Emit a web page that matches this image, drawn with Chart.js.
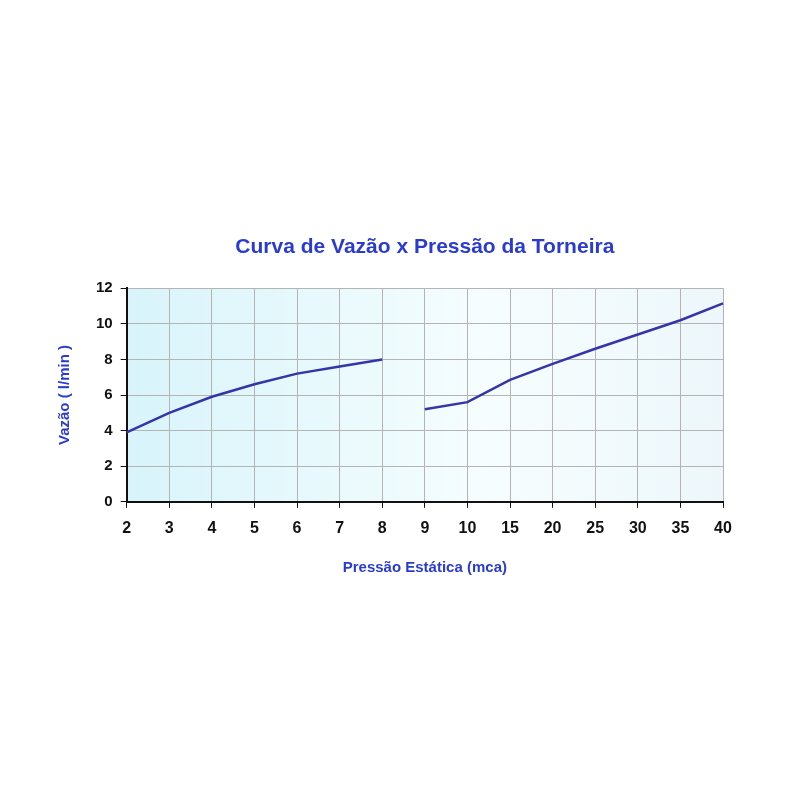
<!DOCTYPE html>
<html>
<head>
<meta charset="utf-8">
<script src="https://cdn.jsdelivr.net/npm/chart.js@4"></script>
<style>
  body { margin: 0; background: #fff; }
</style>
</head>
<body>
<canvas id="vazao" width="800" height="800"></canvas>
<script>
// pressao estatica (mca) - eixo x
var pressoes = ['2', '3', '4', '5', '6', '7', '8', '9', '10', '15', '20', '25', '30', '35', '40']
// vazao em l/min, trecho 2 a 8 mca
var vazaoTrecho1 = [3.9, 5.0, 5.9, 6.6, 7.2, 7.6, 8.0]
// vazao em l/min, trecho 9 a 40 mca
var vazaoTrecho2 = [5.2, 5.6, 6.85, 7.75, 8.6, 9.4, 10.2, 11.15]
var yTicks = [0, 2, 4, 6, 8, 10, 12]

var fonte = 'Liberation Sans, Arial, sans-serif'
var azul = '#2a3bd0'

// completa com null para os dois trechos ficarem separados
function trecho1(){
    var out = vazaoTrecho1.slice()
    while (out.length < pressoes.length) out.push(null)
    return out
}
function trecho2(){
    var out = []
    for (i=0;i<pressoes.length - vazaoTrecho2.length;i++) out.push(null)
    return out.concat(vazaoTrecho2)
}

// fundo em degrade dentro da area do grafico
const fundo = {
    id: 'fundo',
    beforeDraw(chart){
        const a = chart.chartArea
        const c = chart.ctx
        const g = c.createLinearGradient(a.left, 0, a.right, 0)
        g.addColorStop(0, '#d8f4fa')
        g.addColorStop(0.25, '#e4f8fc')
        g.addColorStop(0.6, '#f6fdfe')
        g.addColorStop(1, '#edf7fb')
        c.save()
        c.fillStyle = g
        c.fillRect(a.left, a.top, a.right - a.left, a.bottom - a.top)
        c.restore()
    }
}

const ctx = document.getElementById('vazao').getContext('2d');
const myChart = new Chart(ctx, {
    type: 'line',
    data: {
        labels: pressoes,
        datasets: [{
            data: trecho1(),
            borderColor: '#3535a8',
            borderWidth: 2.5,
            pointRadius: 0,
            tension: 0,
            spanGaps: false
        }, {
            data: trecho2(),
            borderColor: '#3535a8',
            borderWidth: 2.5,
            pointRadius: 0,
            tension: 0,
            spanGaps: false
        }]
    },
    options: {
        responsive: false,
        animation: false,
        layout: {
            padding: { top: 235, bottom: 219, left: 52, right: 77 }
        },
        plugins: {
            legend: { display: false },
            tooltip: { enabled: false },
            title: {
                display: true,
                fullSize: false,
                text: 'Curva de Vazão x Pressão da Torneira',
                color: azul,
                font: { family: fonte, size: 21, weight: 'bold' },
                padding: { top: 0, bottom: 28 }
            }
        },
        scales: {
            x: {
                offset: false,
                grid: { color: '#b4b4b4', lineWidth: 1, tickLength: 6, tickColor: '#111' },
                border: { color: '#111', width: 2 },
                ticks: {
                    color: '#111',
                    padding: 11,
                    maxRotation: 0,
                    font: { family: fonte, size: 16, weight: 'bold' }
                },
                title: {
                    display: true,
                    text: 'Pressão Estática (mca)',
                    color: azul,
                    font: { family: fonte, size: 15, weight: 'bold' },
                    padding: { top: 10 }
                }
            },
            y: {
                min: 0,
                max: 12,
                afterBuildTicks: function(axis){
                    axis.ticks = yTicks.map(function(v){ return { value: v } })
                },
                grid: { color: '#b4b4b4', lineWidth: 1, tickLength: 6, tickColor: '#111' },
                border: { color: '#111', width: 2 },
                ticks: {
                    color: '#111',
                    padding: 8,
                    font: { family: fonte, size: 15, weight: 'bold' }
                },
                title: {
                    display: true,
                    text: 'Vazão ( l/min )',
                    color: azul,
                    font: { family: fonte, size: 15, weight: 'bold' },
                    padding: { bottom: 14 }
                }
            }
        }
    },
    plugins: [fundo]
});
</script>
</body>
</html>
